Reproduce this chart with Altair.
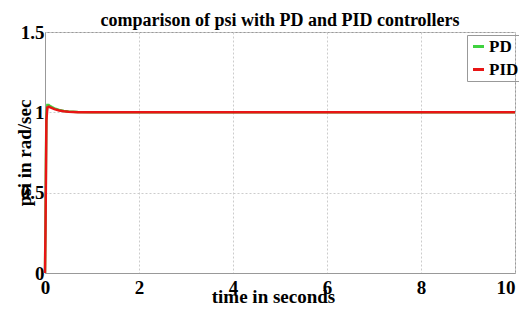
import altair as alt
import pandas as pd

t = [0, 0.01, 0.02, 0.03, 0.05, 0.08, 0.1, 0.15, 0.2, 0.3, 0.4, 0.5, 0.7, 1.0, 1.5, 2, 3, 5, 10]
pd_vals = [0, 0.3, 0.7, 0.98, 1.045, 1.045, 1.04, 1.032, 1.025, 1.015, 1.008, 1.005, 1.002, 1.0, 1.0, 1.0, 1.0, 1.0, 1.0]
pid_vals = [0, 0.25, 0.6, 0.95, 1.03, 1.035, 1.032, 1.026, 1.02, 1.012, 1.007, 1.004, 1.001, 1.0, 1.0, 1.0, 1.0, 1.0, 1.0]
series = ["PD", "PID"]
colors = ["#3fd23f", "#e81515"]
x_ticks = [0, 2, 4, 6, 8, 10]
y_ticks = [0, 0.5, 1, 1.5]

rows = []
for name, vals in zip(series, [pd_vals, pid_vals]):
    for ti, v in zip(t, vals):
        rows.append({"t": ti, "psi": v, "controller": name})
df = pd.DataFrame(rows)

font = "Liberation Serif"

chart = alt.Chart(df).mark_line(strokeWidth=2.5).encode(
    x=alt.X("t:Q", scale=alt.Scale(domain=[0, 10], nice=False),
            axis=alt.Axis(values=x_ticks, title="time in seconds",
                          titleY=14, titleX=228, titleFontSize=19, labelFlush=False,
                          labelAlign={"condition": {"test": "datum.value == 10", "value": "right"},
                                      "value": "center"})),
    y=alt.Y("psi:Q", scale=alt.Scale(domain=[0, 1.5], nice=False),
            axis=alt.Axis(values=y_ticks, format="~g", title="psi in rad/sec",
                          titleX=-11, titleFontSize=19, labelFlush=False)),
    color=alt.Color("controller:N", scale=alt.Scale(domain=series, range=colors),
                    legend=alt.Legend(title=None, orient="none", legendX=422, legendY=3,
                                      symbolType="stroke", symbolStrokeWidth=3, symbolSize=120,
                                      strokeColor="#999999", padding=3, labelFontSize=17,
                                      labelFont=font, labelFontWeight="bold", labelColor="black",
                                      rowPadding=5, labelOffset=2)),
    order=alt.Order("controller:N"),
).properties(
    width=470, height=241,
    title=alt.TitleParams("comparison of psi with PD and PID controllers", fontSize=18,
                          font=font, fontWeight="bold", color="black", offset=-7),
    autosize=alt.AutoSizeParams(type="none"),
    padding={"left": 37, "top": 24, "right": 4, "bottom": 33},
).configure_axis(
    labelFont=font, labelFontSize=19, labelFontWeight="bold", labelColor="black",
    titleFont=font, titleFontWeight="bold", titleColor="black",
    gridDash=[2, 2], gridColor="#cccccc", domainColor="#999999", tickSize=0, labelPadding=3,
).configure_axisX(labelPadding=5).configure_axisY(labelPadding=1).configure_view(stroke="#999999")

chart.save("out.html", embed_options={"renderer": "svg", "actions": False})
